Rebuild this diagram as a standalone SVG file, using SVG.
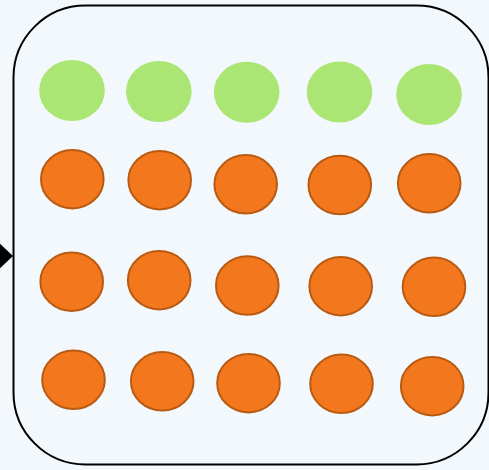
<svg xmlns="http://www.w3.org/2000/svg" width="489" height="470" viewBox="0 0 489 470">
  <style>
    .g { fill: #abe574; stroke: none; }
    .o { fill: #f3781d; stroke: #b95a12; stroke-width: 2; }
  </style>
  <rect x="0" y="0" width="489" height="470" fill="#f3f8fc"/>
  <g id="container">
    <rect x="13.5" y="5.5" width="475" height="459" rx="72" ry="72" fill="#f3f8fc" stroke="#000" stroke-width="2"/>
  </g>
  <g id="connectors">
    <polygon points="-2,242 13,256 -2,270" fill="#000"/>
  </g>
  <g id="green-1"><ellipse class="g" cx="72" cy="90.5" rx="32.8" ry="30.5"/></g>
  <g id="green-2"><ellipse class="g" cx="158.8" cy="91.5" rx="32.8" ry="30.5"/></g>
  <g id="green-3"><ellipse class="g" cx="246.7" cy="92.2" rx="32.8" ry="30.5"/></g>
  <g id="green-4"><ellipse class="g" cx="339.5" cy="92" rx="32.8" ry="30.5"/></g>
  <g id="green-5"><ellipse class="g" cx="429" cy="94.5" rx="32.8" ry="30.5"/></g>

  <g id="orange-1-1"><ellipse class="o" cx="72.3" cy="179.2" rx="31.3" ry="29.2"/></g>
  <g id="orange-1-2"><ellipse class="o" cx="159.7" cy="180.2" rx="31.3" ry="29.2"/></g>
  <g id="orange-1-3"><ellipse class="o" cx="245.7" cy="184.3" rx="31.3" ry="29.2"/></g>
  <g id="orange-1-4"><ellipse class="o" cx="339.8" cy="185" rx="31.3" ry="29.2"/></g>
  <g id="orange-1-5"><ellipse class="o" cx="429.2" cy="183.3" rx="31.3" ry="29.2"/></g>

  <g id="orange-2-1"><ellipse class="o" cx="71.7" cy="281.7" rx="31.3" ry="29.2"/></g>
  <g id="orange-2-2"><ellipse class="o" cx="159.2" cy="280.2" rx="31.3" ry="29.2"/></g>
  <g id="orange-2-3"><ellipse class="o" cx="247.3" cy="285.5" rx="31.3" ry="29.2"/></g>
  <g id="orange-2-4"><ellipse class="o" cx="340.7" cy="286.2" rx="31.3" ry="29.2"/></g>
  <g id="orange-2-5"><ellipse class="o" cx="434" cy="286.8" rx="31.3" ry="29.2"/></g>

  <g id="orange-3-1"><ellipse class="o" cx="73.5" cy="379.8" rx="31.3" ry="29.2"/></g>
  <g id="orange-3-2"><ellipse class="o" cx="162.2" cy="381.3" rx="31.3" ry="29.2"/></g>
  <g id="orange-3-3"><ellipse class="o" cx="248.5" cy="383.2" rx="31.3" ry="29.2"/></g>
  <g id="orange-3-4"><ellipse class="o" cx="341.5" cy="383.8" rx="31.3" ry="29.2"/></g>
  <g id="orange-3-5"><ellipse class="o" cx="432.2" cy="386.2" rx="31.3" ry="29.2"/></g>
</svg>
